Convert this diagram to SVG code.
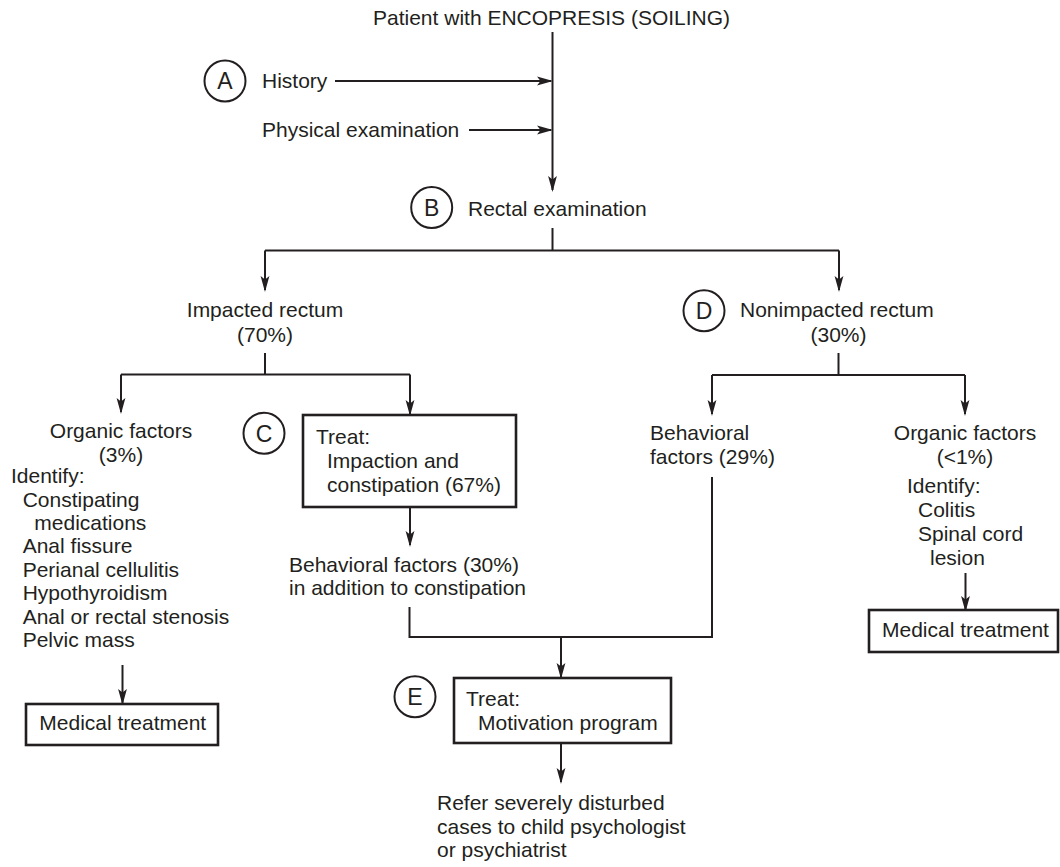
<svg xmlns="http://www.w3.org/2000/svg" width="1060" height="867" viewBox="0 0 1060 867">
  <style>
    text { font-family: "Liberation Sans", Arial, Helvetica, sans-serif; font-size: 21px; fill: #231f20; }
    .mid { text-anchor: middle; }
    .badge circle { fill: none; stroke: #231f20; stroke-width: 2; }
    .badge text { font-size: 23px; text-anchor: middle; }
    .box { fill: #ffffff; stroke: #231f20; stroke-width: 2.6; }
    .wire { fill: none; stroke: #231f20; stroke-width: 2; }
    .arrow { marker-end: url(#head); }
  </style>
  <defs>
    <marker id="head" markerUnits="userSpaceOnUse" markerWidth="16" markerHeight="10" refX="14" refY="5" orient="auto">
      <path d="M0,0.6 L16,5 L0,9.4 L3.5,5 Z" fill="#231f20"/>
    </marker>
  </defs>

  <rect width="1060" height="867" fill="#ffffff"/>

  <!-- connectors -->
  <g id="connectors">
    <path class="wire arrow" d="M552.5,32 V190"/>
    <path class="wire arrow" d="M335,81 H551"/>
    <path class="wire arrow" d="M469,130 H551"/>
    <path class="wire" d="M552.5,228 V250.5"/>
    <path class="wire" d="M265,250.5 H839"/>
    <path class="wire arrow" d="M265,250.5 V290"/>
    <path class="wire arrow" d="M839,250.5 V290"/>

    <path class="wire" d="M265,353 V374.5"/>
    <path class="wire" d="M121,374.5 H410"/>
    <path class="wire arrow" d="M121,374.5 V412"/>
    <path class="wire arrow" d="M410,374.5 V414"/>

    <path class="wire" d="M838.5,353 V375"/>
    <path class="wire" d="M712,375 H965"/>
    <path class="wire arrow" d="M712,375 V414"/>
    <path class="wire arrow" d="M965,375 V414"/>

    <path class="wire arrow" d="M410,507 V545"/>
    <path class="wire arrow" d="M122.5,665 V703"/>
    <path class="wire arrow" d="M965.5,573 V610"/>

    <path class="wire" d="M409.5,607 V637 H712 V477"/>
    <path class="wire arrow" d="M561,637 V677"/>
    <path class="wire arrow" d="M561,743 V782"/>
  </g>

  <!-- start -->
  <g id="patient">
    <text x="373" y="25">Patient with ENCOPRESIS (SOILING)</text>
  </g>

  <g id="badge-a" class="badge">
    <circle cx="225" cy="81" r="20.5"/>
    <text x="225" y="89.3">A</text>
  </g>
  <g id="history">
    <text x="262" y="88">History</text>
  </g>
  <g id="physical">
    <text x="262" y="137">Physical examination</text>
  </g>

  <g id="badge-b" class="badge">
    <circle cx="431.7" cy="207.5" r="20.5"/>
    <text x="431.7" y="215.8">B</text>
  </g>
  <g id="rectal">
    <text x="468" y="216">Rectal examination</text>
  </g>

  <!-- impacted branch -->
  <g id="impacted">
    <text class="mid" x="265" y="317">Impacted rectum</text>
    <text class="mid" x="265" y="342">(70%)</text>
  </g>

  <g id="organic-left">
    <text class="mid" x="121" y="438">Organic factors</text>
    <text class="mid" x="121" y="462">(3%)</text>
    <text x="11" y="482.5">Identify:</text>
    <text x="22.7" y="506.5">Constipating</text>
    <text x="34.3" y="530">medications</text>
    <text x="22.7" y="553.4">Anal fissure</text>
    <text x="22.7" y="576.8">Perianal cellulitis</text>
    <text x="22.7" y="600.2">Hypothyroidism</text>
    <text x="22.7" y="623.6">Anal or rectal stenosis</text>
    <text x="22.7" y="647">Pelvic mass</text>
  </g>

  <g id="medical-left">
    <rect class="box" x="26" y="704" width="192" height="41"/>
    <text x="39.3" y="730">Medical treatment</text>
  </g>

  <g id="badge-c" class="badge">
    <circle cx="264" cy="433.3" r="20.5"/>
    <text x="264" y="441.6">C</text>
  </g>
  <g id="treat-impaction">
    <rect class="box" x="303" y="415" width="213" height="92"/>
    <text x="316" y="444">Treat:</text>
    <text x="327" y="468">Impaction and</text>
    <text x="327" y="491.7">constipation (67%)</text>
  </g>

  <g id="behavioral-30">
    <text x="289" y="571.7">Behavioral factors (30%)</text>
    <text x="289" y="594.5">in addition to constipation</text>
  </g>

  <!-- nonimpacted branch -->
  <g id="badge-d" class="badge">
    <circle cx="704" cy="310.7" r="20.5"/>
    <text x="704" y="319">D</text>
  </g>
  <g id="nonimpacted">
    <text x="740" y="317">Nonimpacted rectum</text>
    <text class="mid" x="838.5" y="342">(30%)</text>
  </g>

  <g id="behavioral-29">
    <text x="650" y="440">Behavioral</text>
    <text x="650" y="463.5">factors (29%)</text>
  </g>

  <g id="organic-right">
    <text class="mid" x="965" y="440">Organic factors</text>
    <text class="mid" x="965" y="463.5">(&lt;1%)</text>
    <text x="907" y="493">Identify:</text>
    <text x="918" y="517">Colitis</text>
    <text x="918" y="541">Spinal cord</text>
    <text x="930" y="565">lesion</text>
  </g>

  <g id="medical-right">
    <rect class="box" x="869" y="610" width="189" height="42"/>
    <text x="882" y="637">Medical treatment</text>
  </g>

  <!-- motivation -->
  <g id="badge-e" class="badge">
    <circle cx="415" cy="696.7" r="20.5"/>
    <text x="415" y="705">E</text>
  </g>
  <g id="treat-motivation">
    <rect class="box" x="454" y="678" width="217" height="65"/>
    <text x="466" y="706">Treat:</text>
    <text x="478" y="730">Motivation program</text>
  </g>

  <g id="refer">
    <text x="437" y="810">Refer severely disturbed</text>
    <text x="437" y="833.5">cases to child psychologist</text>
    <text x="437" y="857">or psychiatrist</text>
  </g>
</svg>
